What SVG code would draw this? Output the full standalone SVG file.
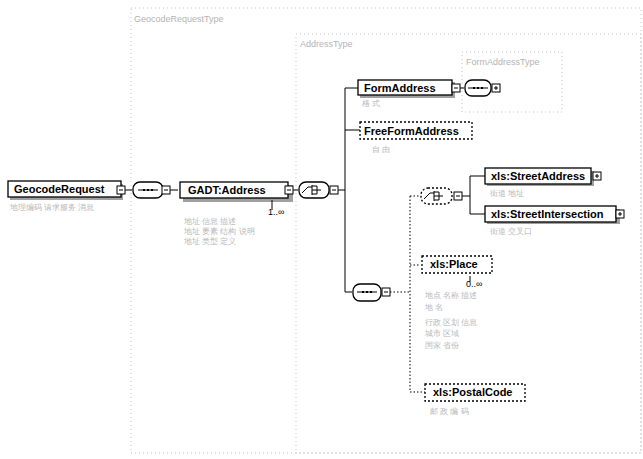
<svg xmlns="http://www.w3.org/2000/svg" width="643" height="459" viewBox="0 0 643 459">
<style>
.bg{fill:#fff}
.frame{fill:none;stroke:#c4c4c4;stroke-width:1;stroke-dasharray:1 3}
.ftxt{font-family:"Liberation Sans",Arial,sans-serif;font-size:9px;fill:#b4b4b4}
.box{fill:#fff;stroke:#000;stroke-width:1.3}
.opt{fill:#fff;stroke:#000;stroke-width:1.3;stroke-dasharray:2 2}
.shadow{fill:#a0a0a0}
.lbl{font-family:"Liberation Sans",Arial,sans-serif;font-size:11px;font-weight:bold;fill:#000}
.sm{font-family:"Liberation Sans",Arial,sans-serif;font-size:8px;fill:#b8b8b8}
.mul{font-family:"Liberation Sans",Arial,sans-serif;font-size:9px;fill:#000}
.ln{fill:none;stroke:#000;stroke-width:1}
.dl{fill:none;stroke:#000;stroke-width:1;stroke-dasharray:1.5 2}
.pm{fill:#fff;stroke:#000;stroke-width:1}
</style>
<defs>
<g id="minus"><rect class="pm" x="0" y="0" width="8" height="8"/><path class="ln" d="M2 4H6"/></g>
<g id="plus"><rect class="pm" x="0" y="0" width="8" height="8"/><path class="ln" d="M2 4H6M4 2V6"/></g>
<g id="seqsym"><path class="ln" d="M-10 0H10"/><rect x="-5" y="-1" width="2" height="2"/><rect x="-1" y="-1" width="2" height="2"/><rect x="3" y="-1" width="2" height="2"/></g>
<g id="chsym"><path class="ln" d="M-10 3L-4 -3H0M0 -5V5M0 -4H5M0 0H5M0 4H5M5 -4V4M5 0H9"/></g>
</defs>
<rect class="bg" width="643" height="459"/>

<g id="frames">
<rect class="frame" x="131" y="8" width="510" height="445"/>
<text class="ftxt" x="134" y="22">GeocodeRequestType</text>
<rect class="frame" x="296" y="34" width="345" height="419"/>
<text class="ftxt" x="300" y="47">AddressType</text>
<rect class="frame" x="462" y="52" width="100" height="60"/>
<text class="ftxt" x="466" y="65">FormAddressType</text>
</g>

<g id="connectors">
<path class="ln" d="M125 190H132"/>
<path class="ln" d="M170 190H178"/>
<path class="ln" d="M293 190H298"/>
<path class="ln" d="M338 190H345M345 88V292M345 88H358M345 130H360M345 292H352"/>
<path class="ln" d="M460 88H464"/>
<path class="dl" d="M390 292H410M410 196V392M410 196H420M410 265H420M410 392H425"/>
<path class="ln" d="M462 196H470M470 176V214M470 176H485M470 214H485"/>
</g>

<g id="GeocodeRequest">
<rect class="shadow" x="10" y="184" width="113" height="16"/>
<rect class="box" x="8" y="181" width="113" height="16"/>
<text class="lbl" x="14" y="193">GeocodeRequest</text>
<use href="#minus" x="117" y="186"/>
<text class="sm" x="10" y="210">地理编码 请求服务 消息</text>
</g>

<g id="seq1">
<rect class="box" x="133" y="182" width="30" height="16" rx="7"/>
<use href="#seqsym" x="148" y="190"/>
<use href="#minus" x="162" y="186"/>
</g>

<g id="GADTAddress">
<rect class="shadow" x="183" y="185" width="110" height="17"/>
<rect class="box" x="180" y="182" width="108" height="16"/>
<text class="lbl" x="188" y="194">GADT:Address</text>
<use href="#minus" x="285" y="186"/>
<path class="ln" d="M272 200V210"/>
<text class="mul" x="268" y="215">1..∞</text>
<text class="sm" x="184" y="224">地址 信息 描述</text>
<text class="sm" x="184" y="234">地址 要素 结构 说明</text>
<text class="sm" x="184" y="244">地址 类型 定义</text>
</g>

<g id="choice1">
<rect class="box" x="299" y="182" width="30" height="16" rx="7"/>
<use href="#chsym" x="312" y="190"/>
<use href="#minus" x="330" y="186"/>
</g>

<g id="FormAddress">
<rect class="shadow" x="360" y="82" width="95" height="16"/>
<rect class="box" x="358" y="80" width="94" height="15"/>
<text class="lbl" x="364" y="92">FormAddress</text>
<use href="#minus" x="452" y="84"/>
<text class="sm" x="362" y="106">格 式</text>
</g>

<g id="seq2">
<rect class="box" x="465" y="80" width="26" height="16" rx="7"/>
<use href="#seqsym" x="478" y="88"/>
<use href="#plus" x="492" y="84"/>
</g>

<g id="FreeFormAddress">
<rect class="opt" x="360" y="122" width="112" height="17"/>
<text class="lbl" x="364" y="135">FreeFormAddress</text>
<text class="sm" x="372" y="152">自 由</text>
</g>

<g id="seq3">
<rect class="box" x="353" y="284" width="28" height="17" rx="7"/>
<use href="#seqsym" x="367" y="292"/>
<use href="#minus" x="382" y="288"/>
</g>

<g id="choice2">
<rect class="opt" x="421" y="188" width="31" height="16" rx="7"/>
<use href="#chsym" x="434" y="196"/>
<use href="#minus" x="454" y="192"/>
</g>

<g id="StreetAddress">
<rect class="shadow" x="487" y="171" width="107" height="15"/>
<rect class="box" x="485" y="168" width="106" height="16"/>
<text class="lbl" x="491" y="180">xls:StreetAddress</text>
<use href="#plus" x="593" y="172"/>
<text class="sm" x="490" y="196">街道 地址</text>
</g>

<g id="StreetIntersection">
<rect class="shadow" x="487" y="209" width="133" height="15"/>
<rect class="box" x="485" y="206" width="131" height="16"/>
<text class="lbl" x="491" y="218">xls:StreetIntersection</text>
<use href="#plus" x="616" y="210"/>
<text class="sm" x="490" y="234">街道 交叉口</text>
</g>

<g id="Place">
<rect class="opt" x="422" y="256" width="70" height="17"/>
<text class="lbl" x="430" y="268">xls:Place</text>
<path class="ln" d="M470 276V282"/>
<text class="mul" x="466" y="287">0..∞</text>
<text class="sm" x="425" y="298">地点 名称 描述</text>
<text class="sm" x="425" y="310">地 名</text>
<text class="sm" x="425" y="325">行政 区划 信息</text>
<text class="sm" x="425" y="336">城市 区域</text>
<text class="sm" x="425" y="348">国家 省份</text>
</g>

<g id="PostalCode">
<rect class="opt" x="425" y="384" width="100" height="17"/>
<text class="lbl" x="433" y="396">xls:PostalCode</text>
<text class="sm" x="430" y="414">邮 政 编 码</text>
</g>
</svg>
